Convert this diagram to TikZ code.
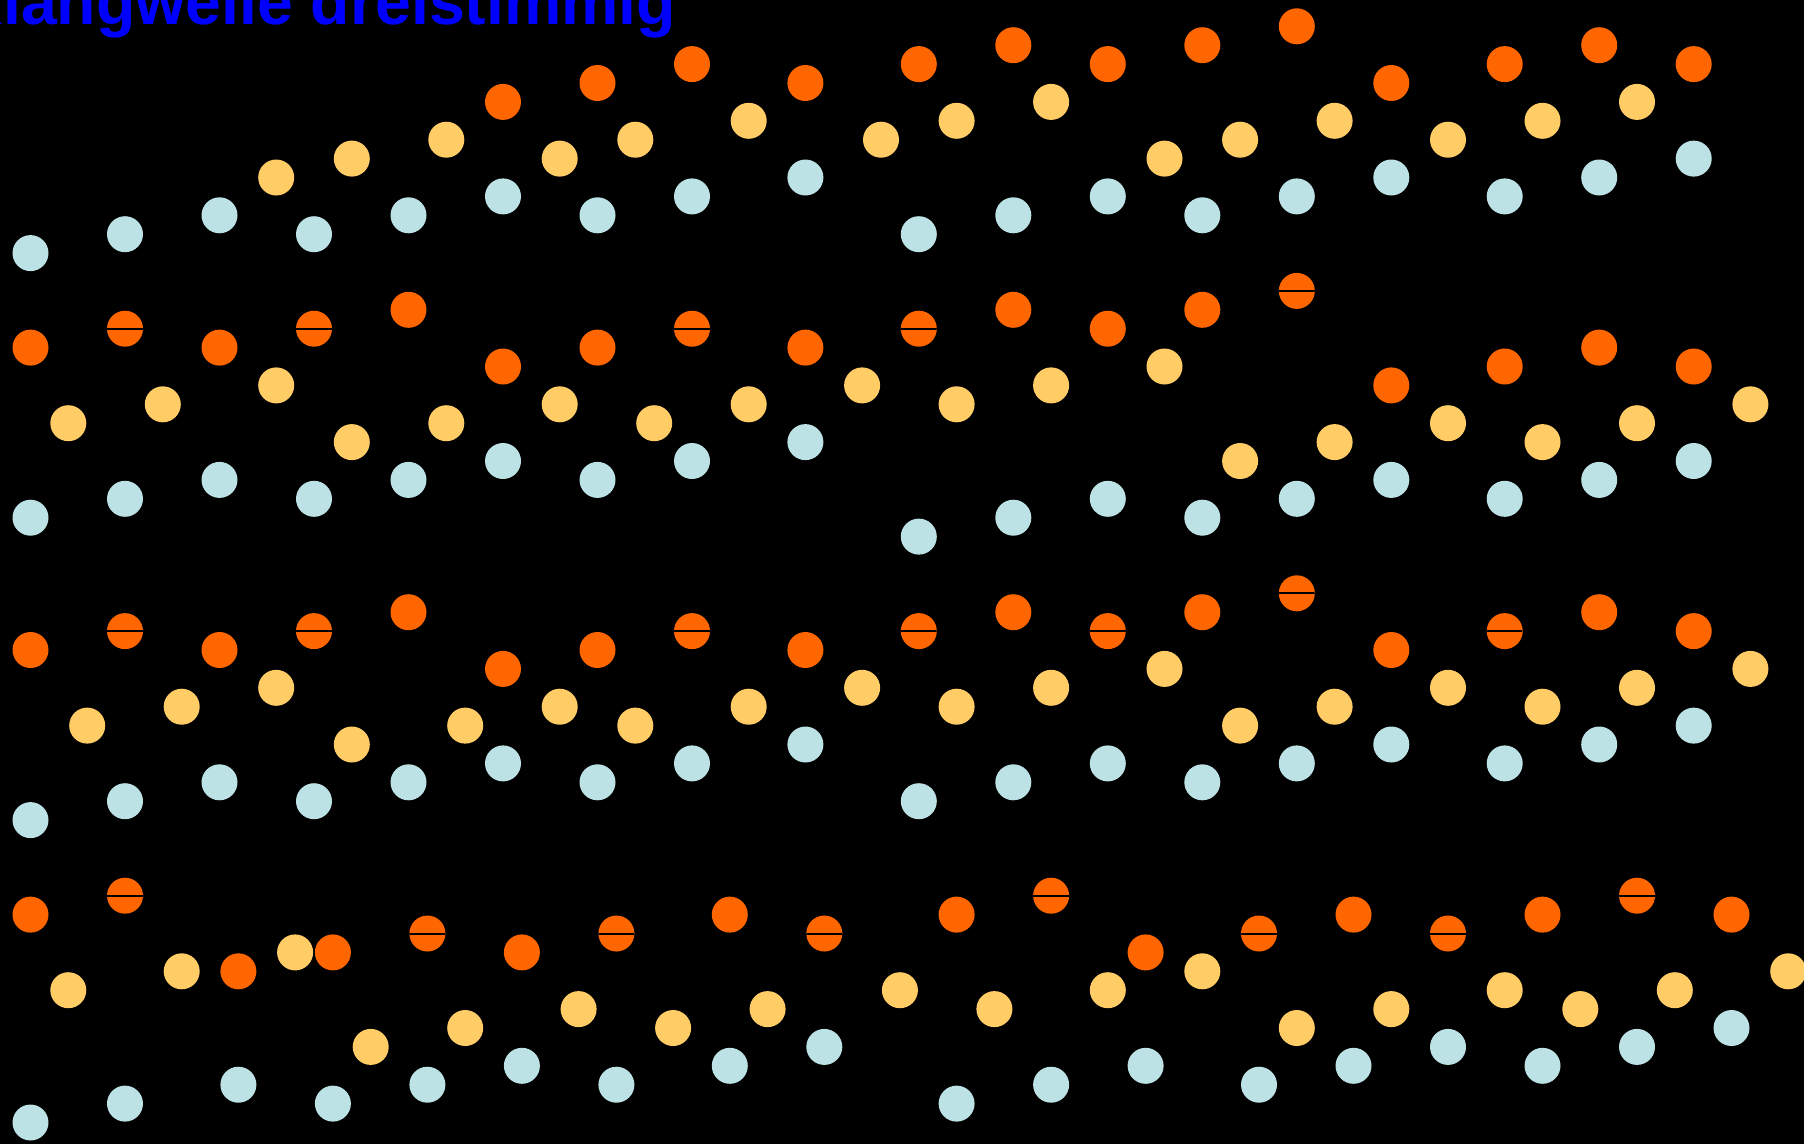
\documentclass[tikz,border=0pt]{standalone}
\usepackage{fontspec}
\setmainfont{Liberation Sans}
\usepackage{xcolor}
\usepackage{tikz}
\usetikzlibrary{positioning}
\definecolor{corange}{RGB}{255,102,0}
\definecolor{cyellow}{RGB}{255,204,102}
\definecolor{cblue}{RGB}{188,226,230}
\definecolor{ctitle}{RGB}{0,0,255}
% grid of the dots: x = 30.5 + 18.9 i, y = 26.3 + 18.9 j (pixels)
\newcommand{\gx}[1]{30.5+18.9*(#1)}
\newcommand{\gy}[1]{26.3+18.9*(#1)}

\begin{document}
\begin{tikzpicture}[x=1pt, y=-1pt,
  dot/.style={circle, inner sep=0pt, minimum size=36pt},
  od/.style={dot, fill=corange},
  yd/.style={dot, fill=cyellow},
  bd/.style={dot, fill=cblue},
  crossed/.style={od, path picture={\draw[black, line width=2pt]
      (path picture bounding box.west) -- (path picture bounding box.east);}},
  title/.style={anchor=base west, inner sep=0pt, text=ctitle,
      font=\fontsize{64.4}{70}\selectfont\bfseries}]
\fill[black] (0,0) rectangle (1804,1144);
\useasboundingbox (0,0) rectangle (1804,1144);
\node[title] (title) at (-43.5,24) {Klangwelle dreistimmig};

% system 1
\foreach \i/\j in {0/12,5/11,10/10,15/11,20/10,25/9,30/10,35/9,41/8,47/11,52/10,57/9,62/10,67/9,72/8,78/9,83/8,88/7}
  \node[bd] (s1b\i) at ({\gx{\i}},{\gy{\j}}) {};
\foreach \i/\j in {13/8,17/7,22/6,28/7,32/6,38/5,45/6,49/5,54/4,60/7,64/6,69/5,75/6,80/5,85/4}
  \node[yd] (s1y\i) at ({\gx{\i}},{\gy{\j}}) {};
\foreach \i/\j in {25/4,30/3,35/2,41/3,47/2,52/1,57/2,62/1,67/0,72/3,78/2,83/1,88/2}
  \node[od] (s1o\i) at ({\gx{\i}},{\gy{\j}}) {};

% system 2
\foreach \i/\j in {0/12,5/11,10/10,15/11,20/10,25/9,30/10,35/9,41/8,47/13,52/12,57/11,62/12,67/11,72/10,78/11,83/10,88/9}
  \node[bd] (s2b\i) at ({\gx{\i}},{\gy{\j+14}}) {};
\foreach \i/\j in {2/7,7/6,13/5,17/8,22/7,28/6,33/7,38/6,44/5,49/6,54/5,60/4,64/9,69/8,75/7,80/8,85/7,91/6}
  \node[yd] (s2y\i) at ({\gx{\i}},{\gy{\j+14}}) {};
\foreach \i/\j in {0/3,10/3,20/1,25/4,30/3,41/3,52/1,57/2,62/1,72/5,78/4,83/3,88/4}
  \node[od] (s2o\i) at ({\gx{\i}},{\gy{\j+14}}) {};
\foreach \i/\j in {5/2,15/2,35/2,47/2,67/0}
  \node[crossed] (s2o\i) at ({\gx{\i}},{\gy{\j+14}}) {};

% system 3
\foreach \i/\j in {0/12,5/11,10/10,15/11,20/10,25/9,30/10,35/9,41/8,47/11,52/10,57/9,62/10,67/9,72/8,78/9,83/8,88/7}
  \node[bd] (s3b\i) at ({\gx{\i}},{\gy{\j+30}}) {};
\foreach \i/\j in {3/7,8/6,13/5,17/8,23/7,28/6,32/7,38/6,44/5,49/6,54/5,60/4,64/7,69/6,75/5,80/6,85/5,91/4}
  \node[yd] (s3y\i) at ({\gx{\i}},{\gy{\j+30}}) {};
\foreach \i/\j in {0/3,10/3,20/1,25/4,30/3,41/3,52/1,62/1,72/3,83/1,88/2}
  \node[od] (s3o\i) at ({\gx{\i}},{\gy{\j+30}}) {};
\foreach \i/\j in {5/2,15/2,35/2,47/2,57/2,67/0,78/2}
  \node[crossed] (s3o\i) at ({\gx{\i}},{\gy{\j+30}}) {};

% system 4
\foreach \i/\j in {0/12,5/11,11/10,16/11,21/10,26/9,31/10,37/9,42/8,49/11,54/10,59/9,65/10,70/9,75/8,80/9,85/8,90/7}
  \node[bd] (s4b\i) at ({\gx{\i}},{\gy{\j+46}}) {};
\foreach \i/\j in {2/5,8/4,14/3,18/8,23/7,29/6,34/7,39/6,46/5,51/6,57/5,62/4,67/7,72/6,78/5,82/6,87/5,93/4}
  \node[yd] (s4y\i) at ({\gx{\i}},{\gy{\j+46}}) {};
\foreach \i/\j in {0/1,11/4,16/3,26/3,37/1,49/1,59/3,70/1,80/1,90/1}
  \node[od] (s4o\i) at ({\gx{\i}},{\gy{\j+46}}) {};
\foreach \i/\j in {5/0,21/2,31/2,42/2,54/0,65/2,75/2,85/0}
  \node[crossed] (s4o\i) at ({\gx{\i}},{\gy{\j+46}}) {};
\end{tikzpicture}
\end{document}
